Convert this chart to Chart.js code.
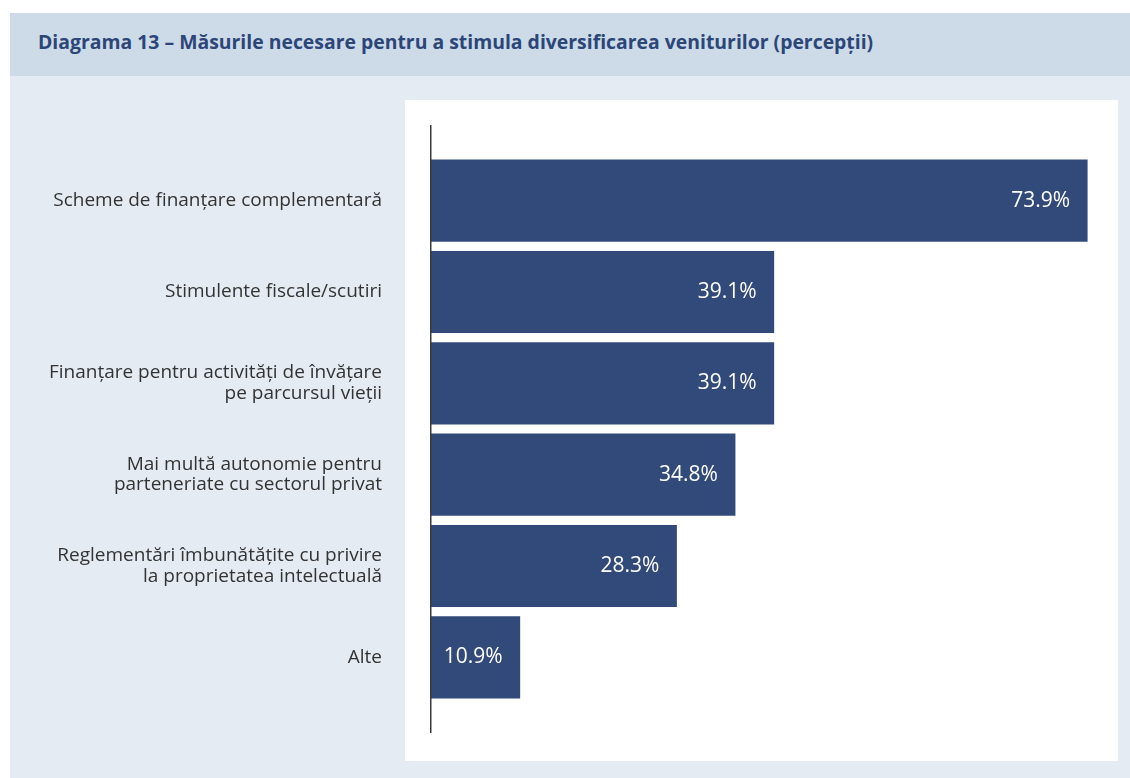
<!DOCTYPE html>
<html lang="ro">
<head>
<meta charset="utf-8">
<title>Diagrama 13</title>
<script src="https://cdn.jsdelivr.net/npm/chart.js@4.4.1/dist/chart.umd.min.js"></script>
<style>
  body { margin: 0; background: #fff; width: 1130px; height: 778px; overflow: hidden; position: relative; font-family: 'Open Sans', sans-serif; }
  .frame { position: absolute; left: 10px; top: 13px; width: 1120px; height: 765px; background: #e4ebf3; }
  .header { position: absolute; left: 0; top: 0; width: 100%; height: 63px; background: #cddbe8; }
  .header h1 { position: absolute; left: 28px; top: 17.5px; margin: 0; font-family: 'Open Sans', sans-serif; font-size: 19.4px; line-height: 22px; font-weight: 700; color: #2c4678; white-space: nowrap; }
  .panel { position: absolute; left: 405px; top: 100px; width: 713px; height: 661px; background: #fff; }
  .chart-box { position: absolute; left: 0; top: 100px; width: 1118px; height: 661px; }
</style>
</head>
<body>
<div class="frame">
  <div class="header"><h1>Diagrama 13 – Măsurile necesare pentru a stimula diversificarea veniturilor (percepții)</h1></div>
</div>
<div class="panel"></div>
<div class="chart-box"><canvas id="chart" width="1118" height="661"></canvas></div>

<script>
// categorii (etichete pe doua randuri unde e cazul)
const categories = [
  ['Scheme de finanțare complementară'],
  ['Stimulente fiscale/scutiri'],
  ['Finanțare pentru activități de învățare', 'pe parcursul vieții'],
  ['Mai multă autonomie pentru', 'parteneriate cu sectorul privat'],
  ['Reglementări îmbunătățite cu privire', 'la proprietatea intelectuală'],
  ['Alte']
];
// procente raspunsuri
const shares = [73.9, 39.1, 39.1, 34.8, 28.3, 10.9];

const barColor = '#324a7a';
const textColor = '#333333';

// linia axei verticale, putin mai lunga decat zona barelor
const axisLine = {
  id: 'axisLine',
  afterDatasetsDraw(chart) {
    const { ctx, chartArea } = chart;
    ctx.save();
    ctx.strokeStyle = '#3a3a3a';
    ctx.lineWidth = 1.5;
    ctx.beginPath();
    ctx.moveTo(chartArea.left - 0.25, chartArea.top - 30);
    ctx.lineTo(chartArea.left - 0.25, chartArea.bottom + 30);
    ctx.stroke();
    ctx.restore();
  }
};

// valorile in interiorul barelor
const valueLabels = {
  id: 'valueLabels',
  afterDatasetsDraw(chart) {
    const ctx = chart.ctx;
    const meta = chart.getDatasetMeta(0);
    ctx.save();
    ctx.fillStyle = '#ffffff';
    ctx.font = "21px 'Open Sans'";
    ctx.textAlign = 'right';
    ctx.textBaseline = 'middle';
    meta.data.forEach(function(bar, i) {
      ctx.fillText(shares[i].toFixed(1) + '%', bar.x - 17.5, bar.y);
    });
    ctx.restore();
  }
};

Chart.defaults.font.family = "'Open Sans', sans-serif";

const ctx = document.getElementById('chart').getContext('2d');
const chart = new Chart(ctx, {
  type: 'bar',
  data: {
    labels: categories,
    datasets: [{
      data: shares,
      backgroundColor: barColor,
      borderWidth: 0,
      barPercentage: 0.9,
      categoryPercentage: 1.0
    }]
  },
  options: {
    indexAxis: 'y',
    responsive: false,
    animation: false,
    layout: { padding: { left: 0, right: 16, top: 55, bottom: 58 } },
    plugins: {
      legend: { display: false },
      tooltip: { enabled: false }
    },
    scales: {
      x: {
        display: false,
        min: 1,
        max: 75.5
      },
      y: {
        grid: { display: false, drawTicks: false },
        border: { display: false },
        ticks: {
          color: textColor,
          font: { size: 19, lineHeight: 1.08 },
          padding: 49
        },
        afterFit(scale) {
          scale.width = 431;
          // fara spatiu suplimentar pentru etichete sus/jos
          scale.paddingTop = 0;
          scale.paddingBottom = 0;
        }
      }
    }
  },
  plugins: [axisLine, valueLabels]
});
</script>
</body>
</html>
